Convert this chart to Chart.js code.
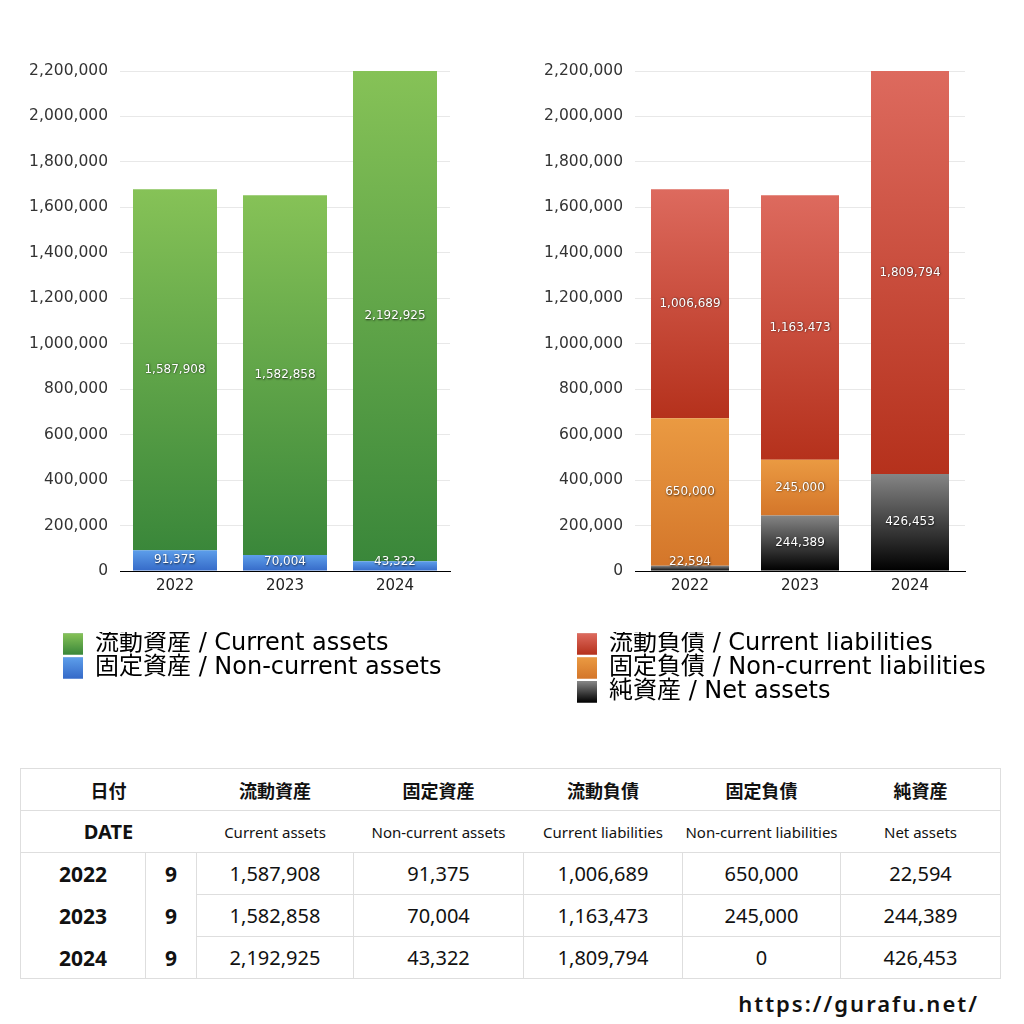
<!DOCTYPE html>
<html>
<head>
<meta charset="utf-8">
<script src="https://cdn.jsdelivr.net/npm/chart.js@4/dist/chart.umd.min.js"></script>
<style>
  html, body { margin: 0; padding: 0; background: #fff; }
  body { width: 1024px; height: 1024px; position: relative; overflow: hidden;
         font-family: "Noto Sans", "Noto Sans CJK JP", sans-serif; color: #111; }
  #leftChart { position: absolute; left: 0; top: 40px; }
  #rightChart { position: absolute; left: 520px; top: 40px; }
  #tbl { position: absolute; left: 20px; top: 768px; width: 980px; border-collapse: collapse; table-layout: fixed; }
  #tbl td { height: 41px; padding: 0; text-align: center; border: 1px solid transparent; }
  #tbl .jp { font-family: "Noto Sans CJK JP", sans-serif; font-weight: bold; font-size: 18px; }
  #tbl .en { font-size: 15px; }
  #tbl .date { font-size: 20px; font-weight: bold; }
  #tbl .yr { font-size: 21px; font-weight: bold; }
  #tbl .num { font-size: 20px; }
  #url { position: absolute; right: 45px; top: 988px; font-size: 22px; font-weight: 600;
         letter-spacing: 2px; color: #111; }
</style>
</head>
<body>
<canvas id="leftChart" width="470" height="650"></canvas>
<canvas id="rightChart" width="504" height="674"></canvas>
<table id="tbl"></table>
<div id="url">https://gurafu.net/</div>
<script>
var years = ['2022', '2023', '2024'];
var months = [9, 9, 9];
var currentAssets = [1587908, 1582858, 2192925];
var nonCurrentAssets = [91375, 70004, 43322];
var currentLiabilities = [1006689, 1163473, 1809794];
var nonCurrentLiabilities = [650000, 245000, 0];
var netAssets = [22594, 244389, 426453];

var FONT = '"DejaVu Sans", "Noto Sans CJK JP", sans-serif';

// gradient per bar segment, light at the top, dark at the bottom
function segFill(top, bottom) {
    return function (c) {
        var chart = c.chart;
        var area = chart.chartArea;
        if (c.type !== 'data' || !area || !chart.scales.y) return bottom;
        var y = chart.scales.y;
        var start = 0;
        for (var d = 0; d < c.datasetIndex; d++) start += chart.data.datasets[d].data[c.dataIndex];
        var end = start + chart.data.datasets[c.datasetIndex].data[c.dataIndex];
        var y0 = Math.min(y.getPixelForValue(start), area.bottom);
        var y1 = Math.max(y.getPixelForValue(end), area.top);
        if (!(y0 > y1)) return bottom;
        var g = chart.ctx.createLinearGradient(0, y1, 0, y0);
        g.addColorStop(0, top);
        g.addColorStop(1, bottom);
        return g;
    };
}

var grads = {
    green: ['#86c257', '#3a873a'],
    blue: ['#5d9eea', '#356ac8'],
    red: ['#dd6a5e', '#b5311c'],
    orange: ['#ea9a42', '#d4762a'],
    black: ['#858585', '#000000']
};

var barLabels = {
    id: 'barLabels',
    afterDatasetsDraw: function (chart) {
        var ctx = chart.ctx, area = chart.chartArea;
        ctx.save();
        ctx.font = '12px ' + FONT;
        ctx.fillStyle = '#fff';
        ctx.textAlign = 'center';
        ctx.textBaseline = 'middle';
        ctx.shadowColor = 'rgba(0,0,0,0.75)';
        ctx.shadowBlur = 2;
        ctx.shadowOffsetX = 0.5;
        ctx.shadowOffsetY = 0.5;
        chart.data.datasets.forEach(function (ds, di) {
            chart.getDatasetMeta(di).data.forEach(function (bar, i) {
                var v = ds.data[i];
                if (!v) return;
                var top = Math.max(Math.min(bar.y, bar.base), area.top);
                var bottom = Math.min(Math.max(bar.y, bar.base), area.bottom);
                var y = Math.min((top + bottom) / 2, area.bottom - 9);
                ctx.fillText(v.toLocaleString('en-US'), bar.x, y);
            });
        });
        ctx.restore();
    }
};

// move the legend right so it lines up under the plot, not under the tick labels
var legendShift = {
    id: 'legendShift',
    afterUpdate: function (chart, args, opts) {
        var lg = chart.legend;
        lg.left += opts.dx;
        lg.right = chart.width;
        lg.width = lg.right - lg.left;
        lg.legendHitBoxes.forEach(function (hb) { hb.left += opts.dx; });
    }
};

var legendBoxes = {
    id: 'legendBoxes',
    afterDraw: function (chart) {
        var lg = chart.legend, ctx = chart.ctx;
        var lab = lg.options.labels;
        lg.legendHitBoxes.forEach(function (hb, i) {
            var item = lg.legendItems[i];
            var cols = chart.data.datasets[item.datasetIndex].grad;
            var y = hb.top + Math.max((lab.font.size - lab.boxHeight) / 2, 0);
            var g = ctx.createLinearGradient(0, y, 0, y + lab.boxHeight);
            g.addColorStop(0, cols[0]);
            g.addColorStop(1, cols[1]);
            ctx.fillStyle = g;
            ctx.fillRect(hb.left, y, lab.boxWidth, lab.boxHeight);
        });
    }
};

function makeOptions(pad, dx, barPct) {
    return {
        responsive: false,
        animation: false,
        layout: { padding: pad },
        datasets: { bar: { barPercentage: barPct, categoryPercentage: 1 } },
        plugins: {
            tooltip: { enabled: false },
            legendShift: { dx: dx },
            legend: {
                position: 'bottom',
                align: 'start',
                reverse: true,
                labels: {
                    boxWidth: 20, boxHeight: 21, padding: 0,
                    color: '#000',
                    font: { size: 24, family: FONT }
                }
            }
        },
        scales: {
            x: {
                stacked: true,
                grid: { display: false, drawTicks: false },
                border: { color: '#000', width: 1 },
                ticks: { color: '#222', padding: 6, font: { size: 15, family: FONT } },
                afterFit: function (s) { s.height = 61; }
            },
            y: {
                stacked: true,
                min: 0,
                max: 2200000,
                border: { display: false },
                grid: {
                    drawTicks: false,
                    color: function (c) { return c.tick && c.tick.value === 0 ? '#000' : '#e8e8e8'; }
                },
                ticks: {
                    stepSize: 200000,
                    padding: 12,
                    color: '#333',
                    font: { size: 15.5, family: FONT },
                    callback: function (v) { return v.toLocaleString('en-US'); }
                },
                afterFit: function (s) { s.width = 95; }
            }
        }
    };
}

function ds(label, data, g) {
    return { label: label, data: data, grad: g, backgroundColor: segFill(g[0], g[1]), borderWidth: 0 };
}

new Chart(document.getElementById('leftChart'), {
    type: 'bar',
    data: {
        labels: years,
        datasets: [
            ds('固定資産 / Non-current assets', nonCurrentAssets, grads.blue),
            ds('流動資産 / Current assets', currentAssets, grads.green)
        ]
    },
    options: makeOptions({ left: 25, right: 20, top: 31, bottom: 0 }, 38, 84 / 110),
    plugins: [barLabels, legendShift, legendBoxes]
});

new Chart(document.getElementById('rightChart'), {
    type: 'bar',
    data: {
        labels: years,
        datasets: [
            ds('純資産 / Net assets', netAssets, grads.black),
            ds('固定負債 / Non-current liabilities', nonCurrentLiabilities, grads.orange),
            ds('流動負債 / Current liabilities', currentLiabilities, grads.red)
        ]
    },
    options: makeOptions({ left: 20, right: 59, top: 31, bottom: 0 }, 37, 78 / 110),
    plugins: [barLabels, legendShift, legendBoxes]
});

// table under the charts
var colW = [125, 51, 157, 170, 159, 158, 160];
var jpHeads = ['流動資産', '固定資産', '流動負債', '固定負債', '純資産'];
var enHeads = ['Current assets', 'Non-current assets', 'Current liabilities', 'Non-current liabilities', 'Net assets'];
var cols = [currentAssets, nonCurrentAssets, currentLiabilities, nonCurrentLiabilities, netAssets];
var line = '1px solid #dedede';

var html = '<colgroup>' + colW.map(function (w) { return '<col style="width:' + w + 'px">'; }).join('') + '</colgroup>';
html += '<tr><td colspan="2" class="jp" style="border-top:' + line + ';border-bottom:' + line + ';border-left:' + line + '">日付</td>';
jpHeads.forEach(function (h, i) {
    html += '<td class="jp" style="border-top:' + line + ';border-bottom:' + line + (i === 4 ? ';border-right:' + line : '') + '">' + h + '</td>';
});
html += '</tr><tr><td colspan="2" class="date" style="border-bottom:' + line + ';border-left:' + line + '">DATE</td>';
enHeads.forEach(function (h, i) {
    html += '<td class="en" style="border-bottom:' + line + (i === 4 ? ';border-right:' + line : '') + '">' + h + '</td>';
});
html += '</tr>';
years.forEach(function (yr, r) {
    var last = r === years.length - 1;
    var bb = last ? ';border-bottom:' + line : '';
    html += '<tr><td class="yr" style="border-left:' + line + ';border-right:' + line + bb + '">' + yr + '</td>';
    html += '<td class="yr" style="border-right:' + line + bb + '">' + months[r] + '</td>';
    cols.forEach(function (c) {
        html += '<td class="num" style="border-right:' + line + ';border-bottom:' + line + '">' + c[r].toLocaleString('en-US') + '</td>';
    });
    html += '</tr>';
});
document.getElementById('tbl').innerHTML = html;
</script>
</body>
</html>
